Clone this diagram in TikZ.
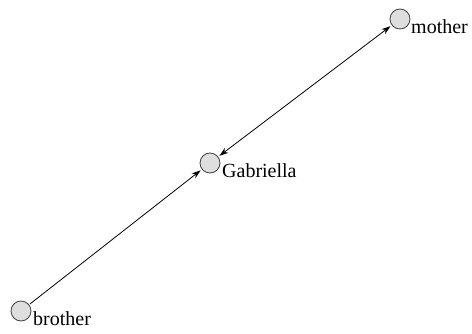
\documentclass[tikz,border=0pt]{standalone}
\usepackage{fontspec}
\setmainfont{Liberation Serif}
\usetikzlibrary{arrows.meta,calc}
\begin{document}
\begin{tikzpicture}[x=1pt,y=1pt,
  vert/.style={circle,draw=black!75,fill=black!13,line width=0.8pt,minimum size=20pt,inner sep=0pt},
  lbl/.style={anchor=base west,inner sep=0pt,font=\fontsize{20}{24}\selectfont},
  edge/.style={line width=0.8pt,-{Stealth[length=9pt,width=6pt]},shorten >=1.5pt,shorten <=1pt},
  bedge/.style={line width=0.8pt,{Stealth[length=9pt,width=6pt]}-{Stealth[length=9pt,width=6pt]},shorten >=1.5pt,shorten <=1.5pt}]
\useasboundingbox (0,0) rectangle (472,333);
\node[vert] (b) at (21,22) {};
\node[vert] (g) at (210,170) {};
\node[vert] (m) at (400,314) {};
\node[lbl] (bl) at ($(b)+(12,-14)$) {brother};
\node[lbl] (gl) at ($(g)+(12,-14)$) {Gabriella};
\node[lbl] (ml) at ($(m)+(11,-14)$) {mother};
\draw[edge] (b) -- (g);
\draw[bedge] (g) -- (m);
\end{tikzpicture}
\end{document}
